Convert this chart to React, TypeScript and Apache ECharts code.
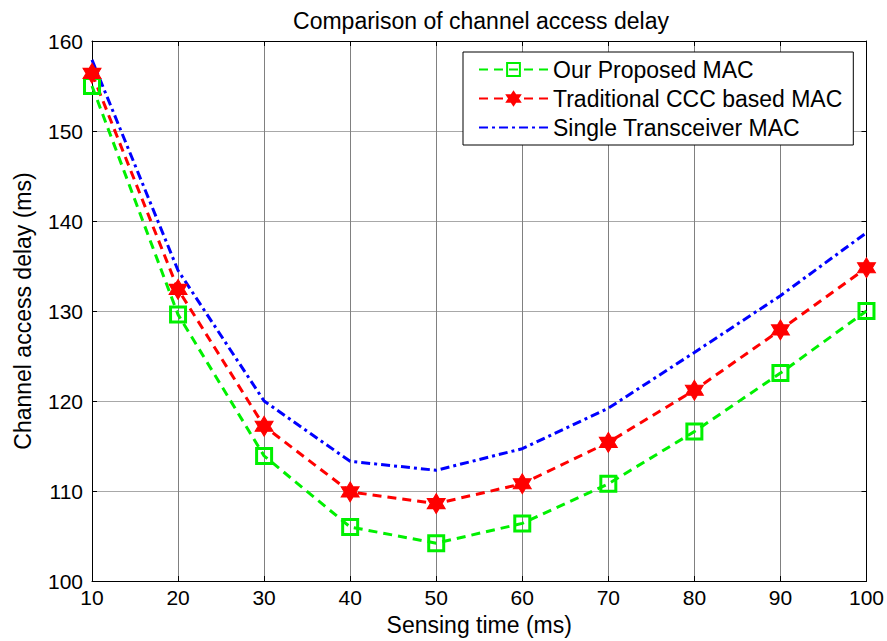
import React, { useEffect, useRef } from "react";
import * as echarts from "echarts";

const sensingTime = [10, 20, 30, 40, 50, 60, 70, 80, 90, 100];
const proposedMac = [155.0, 129.6, 113.9, 106.0, 104.2, 106.4, 110.8, 116.6, 123.1, 130.0];
const traditionalMac = [156.4, 132.4, 117.2, 109.9, 108.6, 110.8, 115.4, 121.2, 127.9, 134.8];
const singleTransceiverMac = [157.9, 134.5, 120.0, 113.3, 112.3, 114.7, 119.2, 125.4, 131.7, 138.7];
const seriesNames = ["Our Proposed MAC", "Traditional CCC based MAC", "Single Transceiver MAC"];

const FONT = "'Liberation Sans', Arial, Helvetica, sans-serif";
const HEXAGRAM = "path://M0,-10 L8.66,5 L-8.66,5 Z M0,10 L-8.66,-5 L8.66,-5 Z";

export default function App() {
  const ref = useRef<HTMLDivElement>(null);
  useEffect(() => {
    if (!ref.current) return;
    const chart = echarts.init(ref.current, null, { renderer: "svg" });
    const pair = (ys: number[]) => sensingTime.map((x, i) => [x, ys[i]]);
    const axisCommon = {
      type: "value" as const,
      axisLine: { show: true, onZero: false, lineStyle: { color: "#000", width: 1 } },
      axisTick: { show: true, inside: true, length: 5, lineStyle: { color: "#000" } },
    };
    chart.setOption({
      animation: false,
      backgroundColor: "#fff",
      title: {
        text: "Comparison of channel access delay",
        left: 476,
        top: 4,
        textAlign: "center",
        textStyle: { fontFamily: FONT, fontSize: 23, fontWeight: "normal", color: "#000" },
      },
      grid: { left: 92, right: 20, top: 41, bottom: 59 },
      legend: {
        orient: "vertical",
        left: 463,
        top: 52,
        padding: [6, 11, 6, 15],
        itemWidth: 69,
        itemHeight: 16,
        itemGap: 6,
        itemTextGap: 10,
        backgroundColor: "#fff",
        borderColor: "#000",
        borderWidth: 1,
        borderRadius: 0,
        textStyle: { fontFamily: FONT, fontSize: 23, lineHeight: 23, color: "#000" },
        data: [
          { name: seriesNames[0] },
          { name: seriesNames[1] },
          { name: seriesNames[2], itemStyle: { opacity: 0 } },
        ],
      },
      xAxis: [
        {
          ...axisCommon,
          min: 10,
          max: 100,
          interval: 10,
          position: "bottom",
          name: "Sensing time (ms)",
          nameLocation: "middle",
          nameGap: 32,
          nameTextStyle: { fontFamily: FONT, fontSize: 23, color: "#000" },
          axisLabel: { fontFamily: FONT, fontSize: 21, color: "#000", margin: 6 },
          splitLine: { show: true, lineStyle: { color: "#808080", width: 1 } },
        },
        {
          ...axisCommon,
          min: 10,
          max: 100,
          interval: 10,
          position: "top",
          axisLabel: { show: false },
          splitLine: { show: false },
        },
      ],
      yAxis: [
        {
          ...axisCommon,
          min: 100,
          max: 160,
          interval: 10,
          position: "left",
          name: "Channel access delay (ms)",
          nameLocation: "middle",
          nameGap: 58,
          nameTextStyle: { fontFamily: FONT, fontSize: 23, color: "#000" },
          axisLabel: { fontFamily: FONT, fontSize: 21, color: "#000", margin: 9 },
          splitLine: { show: true, lineStyle: { color: "#a8a8a8", width: 1 } },
        },
        {
          ...axisCommon,
          min: 100,
          max: 160,
          interval: 10,
          position: "right",
          axisLabel: { show: false },
          splitLine: { show: false },
        },
      ],
      series: [
        {
          name: seriesNames[0],
          type: "line",
          data: pair(proposedMac),
          symbol: "rect",
          symbolSize: 15,
          lineStyle: { color: "#00f000", width: 3, type: [9, 6] },
          itemStyle: { color: "rgba(255,255,255,0)", borderColor: "#00f000", borderWidth: 3 },
          z: 3,
        },
        {
          name: seriesNames[1],
          type: "line",
          data: pair(traditionalMac),
          symbol: HEXAGRAM,
          symbolSize: [18, 20],
          lineStyle: { color: "#ff0000", width: 3, type: [9, 6] },
          itemStyle: { color: "#ff0000", borderColor: "#ff0000", borderWidth: 1 },
          z: 3,
        },
        {
          name: seriesNames[2],
          type: "line",
          data: pair(singleTransceiverMac),
          symbol: "none",
          lineStyle: { color: "#0000ff", width: 3, type: [9, 4, 3, 4] },
          itemStyle: { color: "#0000ff" },
          z: 3,
        },
      ],
    });
    return () => chart.dispose();
  }, []);
  return (
    <div
      ref={ref}
      style={{ position: "fixed", left: 0, top: 0, width: 887, height: 641, background: "#fff" }}
    />
  );
}
